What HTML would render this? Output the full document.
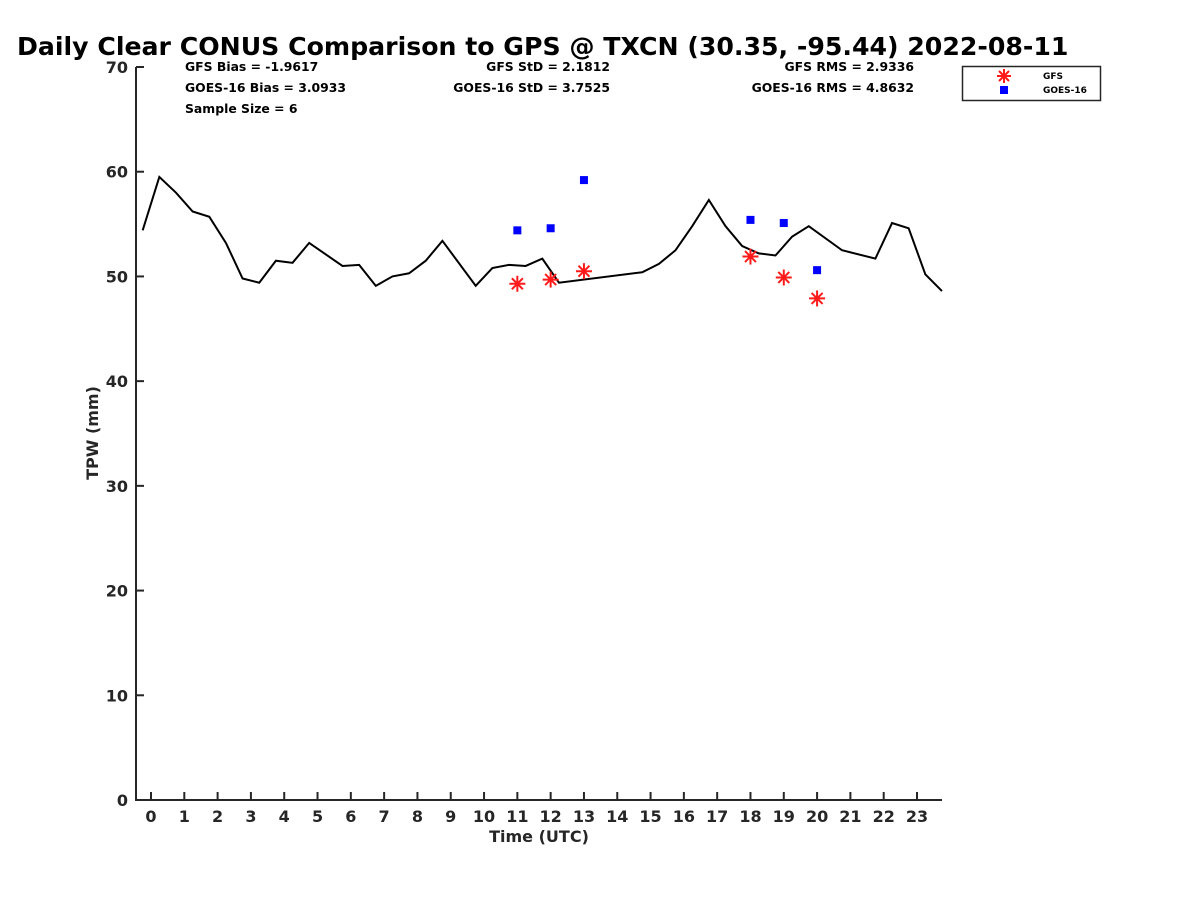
<!DOCTYPE html>
<html><head><meta charset="utf-8"><style>
body{margin:0;background:#fff;}
svg text{font-family:"DejaVu Sans","Liberation Sans",sans-serif;font-weight:bold;}
</style></head><body>
<svg id="chart" width="1200" height="900" xmlns="http://www.w3.org/2000/svg">
<text x="17" y="55" font-size="25.2" fill="#000">Daily Clear CONUS Comparison to GPS @ TXCN (30.35, -95.44) 2022-08-11</text>
<g font-size="12.4" fill="#000">
<text x="185" y="71">GFS Bias = -1.9617</text>
<text x="185" y="92">GOES-16 Bias = 3.0933</text>
<text x="185" y="113">Sample Size = 6</text>
<text x="610" y="71" text-anchor="end">GFS StD = 2.1812</text>
<text x="610" y="92" text-anchor="end">GOES-16 StD = 3.7525</text>
<text x="914" y="71" text-anchor="end">GFS RMS = 2.9336</text>
<text x="914" y="92" text-anchor="end">GOES-16 RMS = 4.8632</text>
</g>
<g id="axes"></g>
<g id="marks"></g>
<g>
<rect x="962.5" y="66.5" width="138" height="34" fill="#fff" stroke="#262626" stroke-width="1.5"/>
<g stroke="#ff1a1a" stroke-width="2">
<line x1="1004" y1="69" x2="1004" y2="83"/><line x1="997" y1="76" x2="1011" y2="76"/><line x1="999" y1="71" x2="1009" y2="81"/><line x1="999" y1="81" x2="1009" y2="71"/></g>
<rect x="1000" y="86" width="8" height="8" fill="#0000ff"/>
<text x="1043" y="79" font-size="9">GFS</text>
<text x="1043" y="93" font-size="9">GOES-16</text>
</g>
<text x="539" y="842" font-size="16" text-anchor="middle" fill="#262626">Time (UTC)</text>
<text transform="translate(98,433) rotate(-90)" font-size="16" text-anchor="middle" fill="#262626">TPW (mm)</text>
</svg>
<script>
const gpsTimes=[-0.25,0.25,0.75,1.25,1.75,2.25,2.75,3.25,3.75,4.25,4.75,5.75,6.25,6.75,7.25,7.75,8.25,8.75,9.75,10.25,10.75,11.25,11.75,12.25,14.75,15.25,15.75,16.25,16.75,17.25,17.75,18.25,18.75,19.25,19.75,20.75,21.75,22.25,22.75,23.25,23.75];
const gpsValues=[54.4,59.5,58.0,56.2,55.7,53.2,49.8,49.4,51.5,51.3,53.2,51.0,51.1,49.1,50.0,50.3,51.5,53.4,49.1,50.8,51.1,51.0,51.7,49.4,50.4,51.2,52.5,54.8,57.3,54.8,52.9,52.2,52.0,53.8,54.8,52.5,51.7,55.1,54.6,50.2,48.6];
const gfsTimes=[11,12,13,18,19,20];
const gfsValues=[49.3,49.7,50.5,51.9,49.9,47.9];
const goesTimes=[11,12,13,18,19,20];
const goesValues=[54.4,54.6,59.2,55.4,55.1,50.6];
const xTicks=[0,1,2,3,4,5,6,7,8,9,10,11,12,13,14,15,16,17,18,19,20,21,22,23];
const yTicks=[0,10,20,30,40,50,60,70];
const NS="http://www.w3.org/2000/svg";
const xS=t=>151+t*(917-151)/23;
const yS=v=>800-v*(800-67)/70;
function mk(tag,attrs,parent){const e=document.createElementNS(NS,tag);for(const k in attrs)e.setAttribute(k,attrs[k]);parent.appendChild(e);return e;}
const axes=document.getElementById('axes'),marks=document.getElementById('marks');
let a=mk('path',{d:`M136,67 V800 H942`,fill:'none',stroke:'#262626','stroke-width':2},axes);


xTicks.forEach(t=>{
 const l=mk('line',{x1:xS(t),x2:xS(t),y1:800,y2:792,stroke:'#262626','stroke-width':2},axes);
 
 
 const tx=mk('text',{x:xS(t),y:822,'font-size':16,'text-anchor':'middle',fill:'#262626'},axes);tx.textContent=t;
 
 
});
yTicks.forEach(v=>{
 const l=mk('line',{x1:136,x2:144,y1:yS(v),y2:yS(v),stroke:'#262626','stroke-width':2},axes);
 
 
 const tx=mk('text',{x:128,y:yS(v)+6,'font-size':16,'text-anchor':'end',fill:'#262626'},axes);tx.textContent=v;
 
 
});
const pl=mk('polyline',{points:gpsTimes.map((t,i)=>xS(t)+','+yS(gpsValues[i])).join(' '),fill:'none',stroke:'#000','stroke-width':2},marks);


goesTimes.forEach((t,i)=>{
 const r=mk('rect',{x:xS(t)-4,y:yS(goesValues[i])-4,width:8,height:8,fill:'#0000ff'},marks);
 
 
});
gfsTimes.forEach((t,i)=>{
 const cx=xS(t),cy=yS(gfsValues[i]);
 const g=mk('g',{stroke:'#ff1a1a','stroke-width':2},marks);
 
 
 mk('line',{x1:cx,y1:cy-8,x2:cx,y2:cy+8},g);
 mk('line',{x1:cx-8,y1:cy,x2:cx+8,y2:cy},g);
 mk('line',{x1:cx-5.5,y1:cy-5.5,x2:cx+5.5,y2:cy+5.5},g);
 mk('line',{x1:cx-5.5,y1:cy+5.5,x2:cx+5.5,y2:cy-5.5},g);
});
</script>
</body></html>
